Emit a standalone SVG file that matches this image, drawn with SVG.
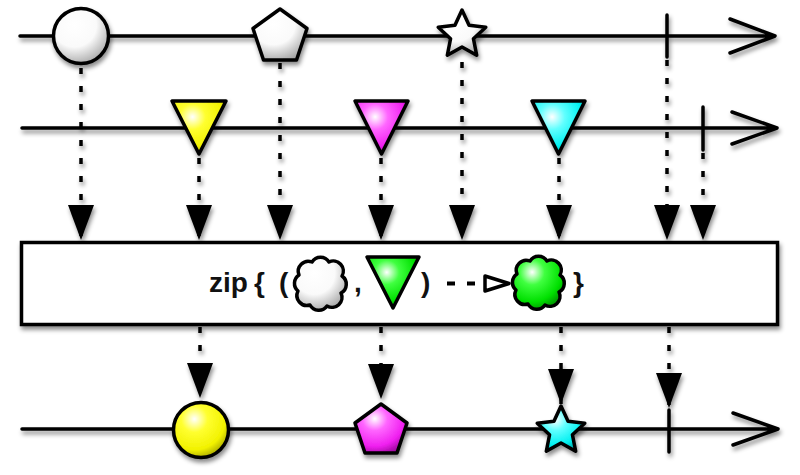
<svg xmlns="http://www.w3.org/2000/svg" xmlns:xlink="http://www.w3.org/1999/xlink" width="800" height="475" viewBox="0 0 800 475">
<defs>
  <filter id="sh" x="-20%" y="-20%" width="140%" height="160%">
    <feDropShadow dx="1.5" dy="3.5" stdDeviation="2" flood-color="#000" flood-opacity="0.45"/>
  </filter>
  <radialGradient id="gWhite" cx="0.38" cy="0.3" r="0.8">
    <stop offset="0" stop-color="#ffffff"/>
    <stop offset="0.5" stop-color="#fafafa"/>
    <stop offset="1" stop-color="#9a9a9a"/>
  </radialGradient>
  <radialGradient id="gYellow" cx="0.38" cy="0.3" r="0.8">
    <stop offset="0" stop-color="#ffffff"/>
    <stop offset="0.3" stop-color="#ffff30"/>
    <stop offset="0.7" stop-color="#f2f200"/>
    <stop offset="1" stop-color="#8c8c00"/>
  </radialGradient>
  <radialGradient id="gMagenta" cx="0.38" cy="0.3" r="0.8">
    <stop offset="0" stop-color="#ffffff"/>
    <stop offset="0.3" stop-color="#ff66ff"/>
    <stop offset="0.7" stop-color="#f020f0"/>
    <stop offset="1" stop-color="#8c008c"/>
  </radialGradient>
  <radialGradient id="gCyan" cx="0.38" cy="0.3" r="0.8">
    <stop offset="0" stop-color="#ffffff"/>
    <stop offset="0.3" stop-color="#60ffff"/>
    <stop offset="0.7" stop-color="#00f0f0"/>
    <stop offset="1" stop-color="#008c8c"/>
  </radialGradient>
  <radialGradient id="gGreen" cx="0.38" cy="0.3" r="0.8">
    <stop offset="0" stop-color="#ffffff"/>
    <stop offset="0.3" stop-color="#40ff40"/>
    <stop offset="0.7" stop-color="#00e000"/>
    <stop offset="1" stop-color="#007a00"/>
  </radialGradient>
  <marker id="ah" markerUnits="userSpaceOnUse" markerWidth="36" markerHeight="27" refX="35" refY="13" orient="auto" overflow="visible">
    <path d="M0,0 L35,13 L0,26 Z" fill="#000"/>
  </marker>
  <path id="star" d="M0,-25 L7.05,-9.71 L23.78,-7.73 L11.41,3.71 L14.69,20.23 L0,12 L-14.69,20.23 L-11.41,3.71 L-23.78,-7.73 L-7.05,-9.71 Z"/>
  <path id="cloud" d="M9,-21 A10,10 0 0 1 22,-7 A10,10 0 0 1 21,10 A10,10 0 0 1 7,23 A10,10 0 0 1 -10,22 A10,10 0 0 1 -22,8 A10,10 0 0 1 -21,-8 A10,10 0 0 1 -8,-21 A10,10 0 0 1 9,-21 Z"/>
  <style>
    .line { stroke: #000; stroke-width: 3.5; fill: none; stroke-linecap: round; stroke-linejoin: round; }
    .shape { stroke: #000; stroke-width: 3.5; stroke-linejoin: round; }
    .dot { stroke: #000; stroke-width: 3.5; fill: none; stroke-dasharray: 6 12; marker-end: url(#ah); }
    .lbl { font-family: "Liberation Sans", Arial, sans-serif; font-weight: bold; font-size: 28px; fill: #111; }
  </style>
</defs>
<rect width="800" height="475" fill="#fff"/>

<g id="timelines" filter="url(#sh)">
  <path class="line" d="M20,36 H774 M730,19 L775,36 L730,53"/>
  <path class="line" d="M667,15 V57"/>
  <path class="line" d="M22,128 H776 M732,112 L777,128 L732,144"/>
  <path class="line" d="M703,107 V150"/>
  <path class="line" d="M22,429 H777 M733,413 L778,429 L733,445"/>
  <path class="line" d="M669,410 V452"/>
</g>

<g id="connectors" filter="url(#sh)">
  <line class="dot" x1="81" y1="68" x2="81" y2="240"/>
  <line class="dot" x1="199" y1="158" x2="199" y2="240"/>
  <line class="dot" x1="280" y1="63" x2="280" y2="240"/>
  <line class="dot" x1="381" y1="158" x2="381" y2="240"/>
  <line class="dot" x1="462" y1="62" x2="462" y2="240"/>
  <line class="dot" x1="559" y1="158" x2="559" y2="240"/>
  <line class="dot" x1="667" y1="60" x2="667" y2="240"/>
  <line class="dot" x1="703" y1="153" x2="703" y2="240"/>
  <line class="dot" x1="200" y1="327" x2="200" y2="398"/>
  <line class="dot" x1="381" y1="327" x2="381" y2="399"/>
  <line class="dot" x1="561" y1="327" x2="561" y2="404"/>
  <line class="dot" x1="669" y1="327" x2="669" y2="408"/>
</g>

<g id="n-circle-white" filter="url(#sh)">
  <circle class="shape" cx="81" cy="36" r="27.5" fill="url(#gWhite)"/>
</g>
<g id="n-pentagon-white" filter="url(#sh)">
  <polygon class="shape" points="280,9 307,28.5 296.5,60 263.5,60 253,28.5" fill="url(#gWhite)"/>
</g>
<g id="n-star-white" filter="url(#sh)">
  <use xlink:href="#star" href="#star" class="shape" transform="translate(462,35)" fill="url(#gWhite)"/>
</g>

<g id="n-tri-yellow" filter="url(#sh)">
  <polygon class="shape" points="172,101 226,101 199,154" fill="url(#gYellow)"/>
</g>
<g id="n-tri-magenta" filter="url(#sh)">
  <polygon class="shape" points="355,101 408,101 381.5,154" fill="url(#gMagenta)"/>
</g>
<g id="n-tri-cyan" filter="url(#sh)">
  <polygon class="shape" points="532,101 585,101 558.5,154" fill="url(#gCyan)"/>
</g>

<g id="operator" filter="url(#sh)">
  <rect x="21.5" y="242.5" width="756" height="82" fill="#fff" stroke="#000" stroke-width="3.5"/>
</g>
<g id="operator-label">
  <text class="lbl" x="209" y="292">zip</text>
  <text class="lbl" x="254" y="292">{</text>
  <text class="lbl" x="279" y="292">(</text>
  <use xlink:href="#cloud" href="#cloud" class="shape" transform="translate(320,283)" fill="url(#gWhite)"/>
  <text class="lbl" x="354" y="292">,</text>
  <polygon class="shape" points="367,257 419,257 393,308" fill="url(#gGreen)"/>
  <text class="lbl" x="421" y="292">)</text>
  <path d="M447,283.5 H476" stroke="#000" stroke-width="4" stroke-dasharray="8 12"/>
  <polygon class="shape" points="485,276 509,283.5 485,291" fill="#fff"/>
  <use xlink:href="#cloud" href="#cloud" class="shape" transform="translate(538,282)" fill="url(#gGreen)"/>
  <text class="lbl" x="573" y="292">}</text>
</g>

<g id="n-circle-yellow" filter="url(#sh)">
  <circle class="shape" cx="201" cy="430" r="27.5" fill="url(#gYellow)"/>
</g>
<g id="n-pentagon-magenta" filter="url(#sh)">
  <polygon class="shape" points="381,404 407,423 397,453 365,453 355,423" fill="url(#gMagenta)"/>
</g>
<g id="n-star-cyan" filter="url(#sh)">
  <use xlink:href="#star" href="#star" class="shape" transform="translate(561,431)" fill="url(#gCyan)"/>
</g>
</svg>
